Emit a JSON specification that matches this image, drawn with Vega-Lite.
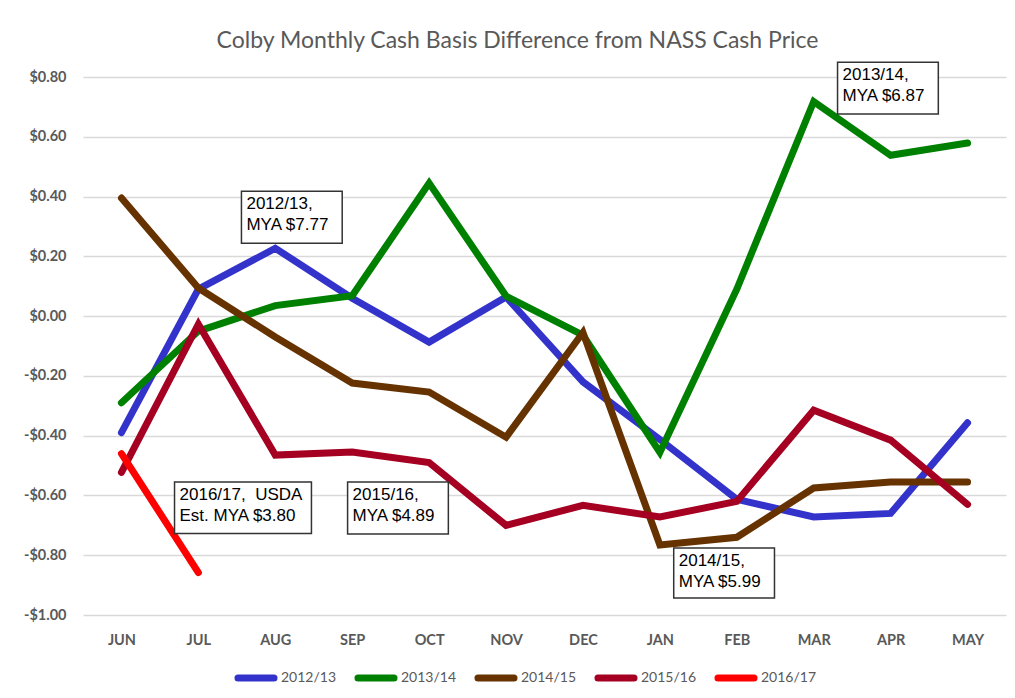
{
  "$schema": "https://vega.github.io/schema/vega-lite/v6.json",
  "width": 923,
  "height": 538,
  "autosize": {"type": "none"},
  "padding": {"left": 83, "top": 77, "right": 9, "bottom": 83},
  "background": "white",
  "title": {
    "text": "Colby Monthly Cash Basis Difference from NASS Cash Price",
    "font": "Lato",
    "fontSize": 23,
    "fontWeight": "normal",
    "color": "#595959",
    "anchor": "middle",
    "dx": -27,
    "offset": 9
  },
  "config": {
    "view": {"stroke": null},
    "axis": {"labelFont": "Lato", "labelColor": "#595959", "labelFontWeight": "bold", "labelFontSize": 14.5}
  },
  "datasets": {
    "series": [
      {"month": "JUN", "idx": 0, "season": "2012/13", "value": -0.39},
      {"month": "JUL", "idx": 1, "season": "2012/13", "value": 0.09},
      {"month": "AUG", "idx": 2, "season": "2012/13", "value": 0.227},
      {"month": "SEP", "idx": 3, "season": "2012/13", "value": 0.06},
      {"month": "OCT", "idx": 4, "season": "2012/13", "value": -0.087},
      {"month": "NOV", "idx": 5, "season": "2012/13", "value": 0.064},
      {"month": "DEC", "idx": 6, "season": "2012/13", "value": -0.22},
      {"month": "JAN", "idx": 7, "season": "2012/13", "value": -0.413},
      {"month": "FEB", "idx": 8, "season": "2012/13", "value": -0.613},
      {"month": "MAR", "idx": 9, "season": "2012/13", "value": -0.672},
      {"month": "APR", "idx": 10, "season": "2012/13", "value": -0.66},
      {"month": "MAY", "idx": 11, "season": "2012/13", "value": -0.357},
      {"month": "JUN", "idx": 0, "season": "2013/14", "value": -0.29},
      {"month": "JUL", "idx": 1, "season": "2013/14", "value": -0.05},
      {"month": "AUG", "idx": 2, "season": "2013/14", "value": 0.035},
      {"month": "SEP", "idx": 3, "season": "2013/14", "value": 0.068},
      {"month": "OCT", "idx": 4, "season": "2013/14", "value": 0.445},
      {"month": "NOV", "idx": 5, "season": "2013/14", "value": 0.067},
      {"month": "DEC", "idx": 6, "season": "2013/14", "value": -0.064},
      {"month": "JAN", "idx": 7, "season": "2013/14", "value": -0.456},
      {"month": "FEB", "idx": 8, "season": "2013/14", "value": 0.09},
      {"month": "MAR", "idx": 9, "season": "2013/14", "value": 0.718},
      {"month": "APR", "idx": 10, "season": "2013/14", "value": 0.538},
      {"month": "MAY", "idx": 11, "season": "2013/14", "value": 0.579},
      {"month": "JUN", "idx": 0, "season": "2014/15", "value": 0.395},
      {"month": "JUL", "idx": 1, "season": "2014/15", "value": 0.094},
      {"month": "AUG", "idx": 2, "season": "2014/15", "value": -0.07},
      {"month": "SEP", "idx": 3, "season": "2014/15", "value": -0.224},
      {"month": "OCT", "idx": 4, "season": "2014/15", "value": -0.254},
      {"month": "NOV", "idx": 5, "season": "2014/15", "value": -0.405},
      {"month": "DEC", "idx": 6, "season": "2014/15", "value": -0.055},
      {"month": "JAN", "idx": 7, "season": "2014/15", "value": -0.766},
      {"month": "FEB", "idx": 8, "season": "2014/15", "value": -0.74},
      {"month": "MAR", "idx": 9, "season": "2014/15", "value": -0.575},
      {"month": "APR", "idx": 10, "season": "2014/15", "value": -0.555},
      {"month": "MAY", "idx": 11, "season": "2014/15", "value": -0.555},
      {"month": "JUN", "idx": 0, "season": "2015/16", "value": -0.523},
      {"month": "JUL", "idx": 1, "season": "2015/16", "value": -0.027},
      {"month": "AUG", "idx": 2, "season": "2015/16", "value": -0.465},
      {"month": "SEP", "idx": 3, "season": "2015/16", "value": -0.455},
      {"month": "OCT", "idx": 4, "season": "2015/16", "value": -0.49},
      {"month": "NOV", "idx": 5, "season": "2015/16", "value": -0.70},
      {"month": "DEC", "idx": 6, "season": "2015/16", "value": -0.633},
      {"month": "JAN", "idx": 7, "season": "2015/16", "value": -0.672},
      {"month": "FEB", "idx": 8, "season": "2015/16", "value": -0.62},
      {"month": "MAR", "idx": 9, "season": "2015/16", "value": -0.315},
      {"month": "APR", "idx": 10, "season": "2015/16", "value": -0.415},
      {"month": "MAY", "idx": 11, "season": "2015/16", "value": -0.63},
      {"month": "JUN", "idx": 0, "season": "2016/17", "value": -0.46},
      {"month": "JUL", "idx": 1, "season": "2016/17", "value": -0.858}
    ],
    "notes": [
      {"label": "2012/13,\nMYA $7.77", "x1": 1.56, "x2": 2.87, "y1": 0.418, "y2": 0.244},
      {"label": "2013/14,\nMYA $6.87", "x1": 9.31, "x2": 10.62, "y1": 0.849, "y2": 0.676},
      {"label": "2016/17, \u00a0USDA\nEst. MYA $3.80", "x1": 0.69, "x2": 2.47, "y1": -0.555, "y2": -0.727},
      {"label": "2015/16,\nMYA $4.89", "x1": 2.94, "x2": 4.25, "y1": -0.555, "y2": -0.729},
      {"label": "2014/15,\nMYA $5.99", "x1": 7.18, "x2": 8.49, "y1": -0.776, "y2": -0.943}
    ]
  },
  "layer": [
    {
      "data": {"name": "series"},
      "mark": {"type": "line", "strokeWidth": 7, "strokeCap": "round", "strokeJoin": "miter", "clip": false},
      "encoding": {
        "x": {
          "field": "idx", "type": "quantitative",
          "scale": {"domain": [-0.5, 11.5], "nice": false, "zero": false},
          "axis": {
            "title": null, "grid": false, "ticks": false, "domain": false,
            "values": [0, 1, 2, 3, 4, 5, 6, 7, 8, 9, 10, 11],
            "labelExpr": "['JUN','JUL','AUG','SEP','OCT','NOV','DEC','JAN','FEB','MAR','APR','MAY'][datum.value]",
            "labelPadding": 18
          }
        },
        "y": {
          "field": "value", "type": "quantitative",
          "scale": {"domain": [-1, 0.8], "nice": false, "zero": false},
          "axis": {
            "title": null, "ticks": false, "domain": false,
            "values": [-1, -0.8, -0.6, -0.4, -0.2, 0, 0.2, 0.4, 0.6, 0.8],
            "labelExpr": "datum.value < -0.0001 ? '-$' + format(-datum.value, '.2f') : '$' + format(abs(datum.value), '.2f')",
            "gridColor": "#D9D9D9", "gridWidth": 1.3,
            "labelPadding": 17
          }
        },
        "color": {
          "field": "season", "type": "nominal",
          "scale": {
            "domain": ["2012/13", "2013/14", "2014/15", "2015/16", "2016/17"],
            "range": ["#3333CC", "#008000", "#663300", "#A50021", "#FF0000"]
          },
          "legend": {
            "title": null,
            "orient": "none",
            "direction": "horizontal",
            "legendX": 151,
            "legendY": 579,
            "symbolType": "stroke",
            "symbolSize": 1300,
            "symbolStrokeWidth": 7,
            "labelFont": "Lato",
            "labelFontSize": 14,
            "labelColor": "#595959",
            "labelOffset": 3,
            "columnPadding": 6,
            "encode": {"symbols": {"update": {"strokeCap": {"value": "round"}}}}
          }
        }
      }
    },
    {
      "data": {"name": "notes"},
      "mark": {"type": "rect", "fill": "white", "stroke": "#333333", "strokeWidth": 1.5, "clip": false},
      "encoding": {
        "x": {"field": "x1", "type": "quantitative"},
        "x2": {"field": "x2"},
        "y": {"field": "y1", "type": "quantitative"},
        "y2": {"field": "y2"}
      }
    },
    {
      "data": {"name": "notes"},
      "mark": {"type": "text", "align": "left", "baseline": "top", "dx": 5, "dy": 5, "font": "Liberation Sans", "fontSize": 17, "lineHeight": 21, "lineBreak": "\n", "color": "black", "clip": false},
      "encoding": {
        "x": {"field": "x1", "type": "quantitative"},
        "y": {"field": "y1", "type": "quantitative"},
        "text": {"field": "label"}
      }
    }
  ]
}
